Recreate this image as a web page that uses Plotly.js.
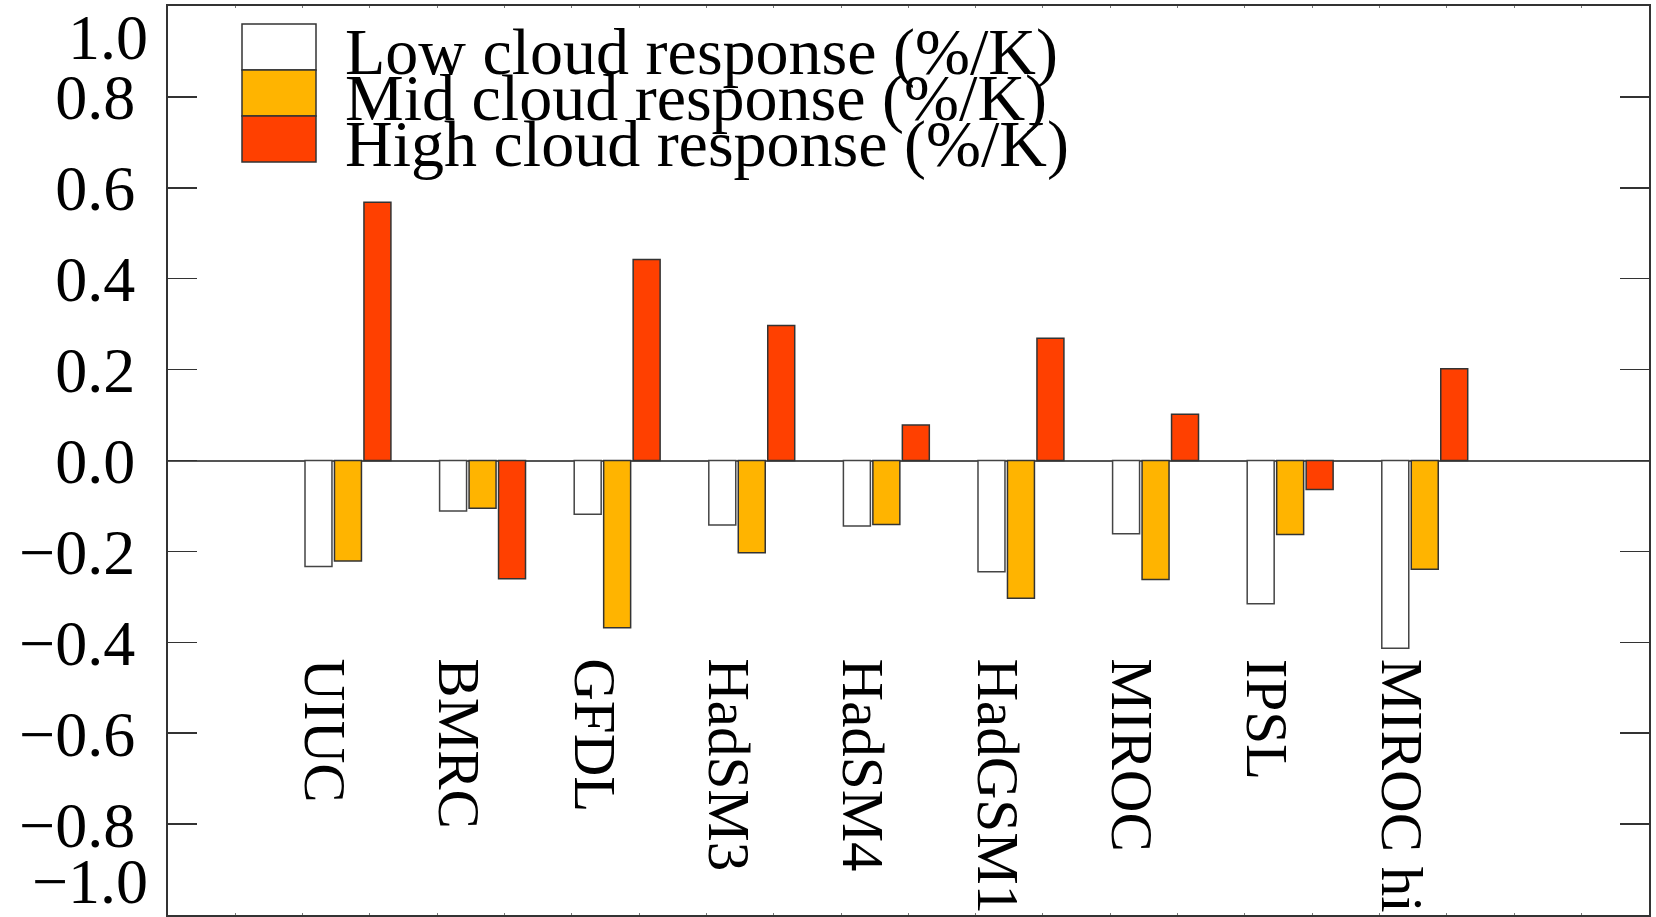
<!DOCTYPE html>
<html>
<head>
<meta charset="utf-8">
<script src="https://cdn.plot.ly/plotly-3.0.1.min.js"></script>
<style>
  html, body { margin: 0; padding: 0; background: #ffffff; }
  #chart { width: 1656px; height: 917px; }
</style>
</head>
<body>
<div id="chart"></div>
<script>
// ---- data ----
const categories = ['UIUC', 'BMRC', 'GFDL', 'HadSM3', 'HadSM4', 'HadGSM1', 'MIROC', 'IPSL', 'MIROC hi'];
const lowResp  = [-0.233, -0.111, -0.118, -0.142, -0.144, -0.245, -0.161, -0.315, -0.413];
const midResp  = [-0.221, -0.105, -0.368, -0.203, -0.141, -0.303, -0.262, -0.163, -0.239];
const highResp = [ 0.568, -0.260,  0.442,  0.297,  0.078,  0.269,  0.102, -0.064,  0.202];
const seriesNames = ['Low cloud response (%/K)', 'Mid cloud response (%/K)', 'High cloud response (%/K)'];
const seriesColors = ['#FFFFFF', '#FFB400', '#FF4000'];
const yTickVals = [-1.0, -0.8, -0.6, -0.4, -0.2, 0.0, 0.2, 0.4, 0.6, 0.8, 1.0];

// ---- layout geometry (pixels) ----
const W = 1656, H = 917;
const M = {l: 168, r: 7, t: 6, b: 2};
const PW = W - M.l - M.r, PH = H - M.t - M.b;
const px2x = p => (p - M.l) / PW;
const px2y = p => (H - M.b - p) / PH;

const FONT = 'Liberation Serif, Times New Roman, serif';
const xPos = categories.map((c, i) => i + 1);
const seriesValues = [lowResp, midResp, highResp];

const traces = seriesValues.map((vals, k) => ({
  type: 'bar',
  name: seriesNames[k],
  x: xPos,
  y: vals,
  marker: {color: seriesColors[k], line: {color: k === 0 ? '#444444' : '#333333', width: 1.5}},
  hoverinfo: 'x+y'
}));

const innerTicks = yTickVals.filter(v => Math.abs(v) < 0.999);
const fmt = v => (v < 0 ? '\u2212' : '') + Math.abs(v).toFixed(1);

const annotations = [];
// category labels (rotated, inside plot)
categories.forEach((c, i) => {
  annotations.push({
    x: xPos[i], y: -0.431, xref: 'x', yref: 'y',
    text: c, showarrow: false, textangle: 90,
    xanchor: 'center', yanchor: 'top', xshift: -23,
    font: {family: FONT, size: 59, color: '#000'}
  });
});
// end tick labels, kept inside the figure
annotations.push({
  x: 0, y: yTickVals[yTickVals.length - 1], xref: 'paper', yref: 'y',
  text: fmt(yTickVals[yTickVals.length - 1]), showarrow: false,
  xanchor: 'right', yanchor: 'top', xshift: -18, yshift: 6,
  font: {family: FONT, size: 64, color: '#000'}
});
annotations.push({
  x: 0, y: yTickVals[0], xref: 'paper', yref: 'y',
  text: fmt(yTickVals[0]), showarrow: false,
  xanchor: 'right', yanchor: 'bottom', xshift: -18, yshift: -4,
  font: {family: FONT, size: 64, color: '#000'}
});

// custom legend
const shapes = [];
const legTop = 24, legRow = 46, legX0 = 242, legX1 = 316, legTextX = 343;
seriesNames.forEach((n, k) => {
  shapes.push({
    type: 'rect', xref: 'paper', yref: 'paper',
    x0: px2x(legX0), x1: px2x(legX1),
    y0: px2y(legTop + legRow * (k + 1)), y1: px2y(legTop + legRow * k),
    fillcolor: seriesColors[k], line: {color: '#333333', width: 1.5}
  });
  annotations.push({
    x: px2x(legTextX), y: px2y(legTop + legRow * k + legRow / 2 + 5),
    xref: 'paper', yref: 'paper', text: n, showarrow: false,
    xanchor: 'left', yanchor: 'middle',
    font: {family: FONT, size: 66, color: '#000'}
  });
});

const layout = {
  width: W, height: H,
  margin: M,
  paper_bgcolor: '#ffffff', plot_bgcolor: '#ffffff',
  showlegend: false,
  barmode: 'group', bargap: 0.343, bargroupgap: 0.085,
  xaxis: {
    range: [-0.337, 10.666], showgrid: false, zeroline: false,
    showline: true, mirror: 'ticks', linecolor: '#333333', linewidth: 2,
    ticks: 'inside', ticklen: 2, tickcolor: '#777777', tick0: -0.337, dtick: 0.5,
    showticklabels: false
  },
  yaxis: {
    range: [-1.0, 1.0], showgrid: false,
    zeroline: true, zerolinecolor: '#555555', zerolinewidth: 2,
    showline: true, mirror: 'ticks', linecolor: '#333333', linewidth: 2,
    ticks: 'inside', ticklen: 29, tickwidth: 1.5, tickcolor: '#333333',
    tickvals: innerTicks, ticktext: innerTicks.map(fmt),
    ticklabelstandoff: 18,
    tickfont: {family: FONT, size: 64, color: '#000'}
  },
  shapes: shapes,
  annotations: annotations
};

Plotly.newPlot('chart', traces, layout, {displayModeBar: false, staticPlot: true});
</script>
</body>
</html>
